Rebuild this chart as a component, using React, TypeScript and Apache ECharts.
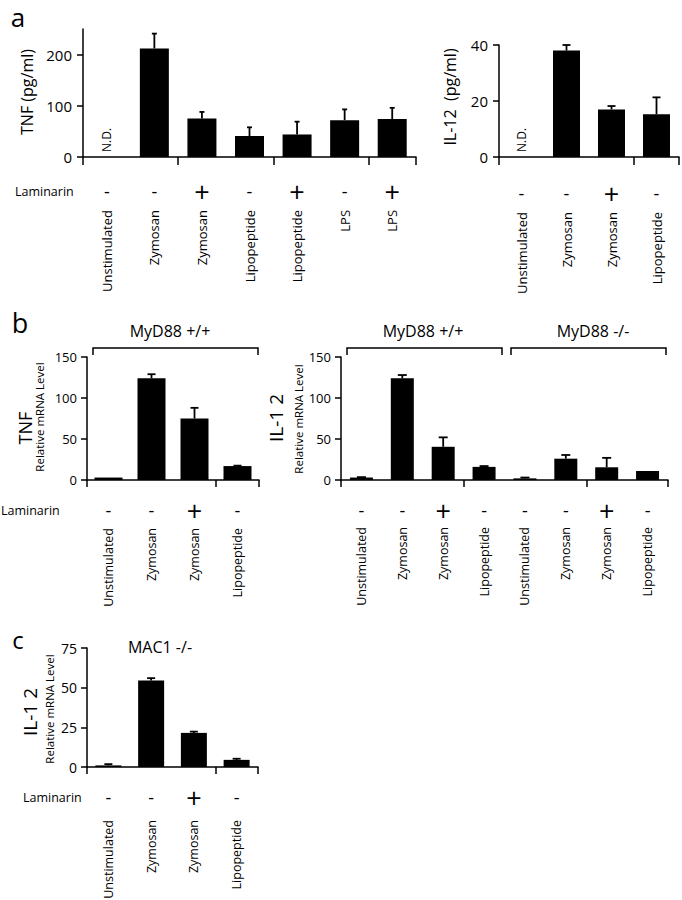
import React, { useEffect, useRef } from 'react';
import * as echarts from 'echarts';

const FONT = '"Open Sans", "Noto Sans", sans-serif';

// ---------- Panel a (left): TNF (pg/ml) ----------
const catsA1 = ['Unstimulated', 'Zymosan', 'Zymosan', 'Lipopeptide', 'Lipopeptide', 'LPS', 'LPS'];
const lamA1 = ['-', '-', '+', '-', '+', '-', '+'];
const tnfA = [null, 212, 75, 41, 44, 72, 74];
const tnfAErr = [null, 241, 88, 58, 69, 93, 96];
const ndA1 = [0];
const ticksA1 = [0, 100, 200];

// ---------- Panel a (right): IL-12 (pg/ml) ----------
const catsA2 = ['Unstimulated', 'Zymosan', 'Zymosan', 'Lipopeptide'];
const lamA2 = ['-', '-', '+', '-'];
const il12A = [null, 38, 17, 15.3];
const il12AErr = [null, 40, 18.2, 21.3];
const ndA2 = [0];
const ticksA2 = [0, 20, 40];

// ---------- Panel b (left): TNF relative mRNA ----------
const catsB1 = ['Unstimulated', 'Zymosan', 'Zymosan', 'Lipopeptide'];
const lamB1 = ['-', '-', '+', '-'];
const tnfB = [3, 124, 75, 17];
const tnfBErr = [3, 129, 88, 17.5];
const ticksB = [0, 50, 100, 150];

// ---------- Panel b (right): IL-12 relative mRNA, MyD88 +/+ and -/- ----------
const catsB2 = ['Unstimulated', 'Zymosan', 'Zymosan', 'Lipopeptide', 'Unstimulated', 'Zymosan', 'Zymosan', 'Lipopeptide'];
const lamB2 = ['-', '-', '+', '-', '-', '-', '+', '-'];
const il12B = [3, 124, 40.5, 16, 2, 26, 15.5, 11];
const il12BErr = [3.5, 128, 52, 17, 3, 30.5, 27, 11];

// ---------- Panel c: IL-12 relative mRNA, MAC1 -/- ----------
const catsC = ['Unstimulated', 'Zymosan', 'Zymosan', 'Lipopeptide'];
const lamC = ['-', '-', '+', '-'];
const il12C = [1, 54.5, 21.5, 4.5];
const il12CErr = [1.8, 56, 22.3, 5.2];
const ticksC = [0, 25, 50, 75];

type Panel = {
  left: number; top: number; width: number; height: number;
  cats: string[]; lam: string[]; vals: (number | null)[]; errs: (number | null)[];
  yMax: number; ticks: number[]; barWidth: number; cap: number;
  yLabelSize: number; yLabelMargin: number; xTick: number;
  signMargin: number; nameMargin: number; nameSize: number; nd: number[];
};

const panels: Panel[] = [
  { left: 83, top: 29, width: 333, height: 128, cats: catsA1, lam: lamA1, vals: tnfA, errs: tnfAErr,
    yMax: 250, ticks: ticksA1, barWidth: 29, cap: 5, yLabelSize: 15, yLabelMargin: 11, xTick: 8,
    signMargin: 34, nameMargin: 53, nameSize: 13, nd: ndA1 },
  { left: 499, top: 45, width: 180, height: 112, cats: catsA2, lam: lamA2, vals: il12A, errs: il12AErr,
    yMax: 40, ticks: ticksA2, barWidth: 27, cap: 8, yLabelSize: 15, yLabelMargin: 11, xTick: 8,
    signMargin: 36, nameMargin: 55, nameSize: 13, nd: ndA2 },
  { left: 87, top: 357, width: 172, height: 123, cats: catsB1, lam: lamB1, vals: tnfB, errs: tnfBErr,
    yMax: 150, ticks: ticksB, barWidth: 28, cap: 8, yLabelSize: 13, yLabelMargin: 10, xTick: 7,
    signMargin: 30, nameMargin: 48, nameSize: 12.5, nd: [] },
  { left: 341, top: 357, width: 327, height: 123, cats: catsB2, lam: lamB2, vals: il12B, errs: il12BErr,
    yMax: 150, ticks: ticksB, barWidth: 23, cap: 9, yLabelSize: 13, yLabelMargin: 10, xTick: 7,
    signMargin: 30, nameMargin: 47, nameSize: 12.5, nd: [] },
  { left: 87, top: 648, width: 171, height: 119, cats: catsC, lam: lamC, vals: il12C, errs: il12CErr,
    yMax: 75, ticks: ticksC, barWidth: 26, cap: 8, yLabelSize: 14, yLabelMargin: 10, xTick: 7,
    signMargin: 30, nameMargin: 53, nameSize: 12.5, nd: [] },
];

const black = '#000';
const R = Math.PI / 2;

let measureCtx: CanvasRenderingContext2D | null = null;
function textWidth(text: string, size: number): number {
  if (!measureCtx) measureCtx = document.createElement('canvas').getContext('2d');
  if (!measureCtx) return text.length * size * 0.52;
  measureCtx.font = `${size}px ${FONT}`;
  return measureCtx.measureText(text).width;
}

function buildOption() {
  const grid: any[] = [];
  const xAxis: any[] = [];
  const yAxis: any[] = [];
  const series: any[] = [];

  panels.forEach((p, gi) => {
    grid.push({ left: p.left, top: p.top, width: p.width, height: p.height, containLabel: false });
    const xi = xAxis.length;
    xAxis.push({
      type: 'category', gridIndex: gi, data: p.cats, position: 'bottom', boundaryGap: true,
      axisLine: { show: true, onZero: false, lineStyle: { color: black, width: 1.5 } },
      axisTick: { show: true, length: p.xTick, lineStyle: { color: black, width: 1.5 } },
      axisLabel: { show: false }, splitLine: { show: false },
    });
    xAxis.push({
      type: 'category', gridIndex: gi, data: p.lam, position: 'bottom', boundaryGap: true,
      axisLine: { show: false }, axisTick: { show: false }, splitLine: { show: false },
      axisLabel: {
        show: true, interval: 0, margin: p.signMargin, verticalAlign: 'middle',
        formatter: (v: string) => (v === '+' ? '{p|+}' : '{m|-}'),
        rich: {
          p: { fontSize: 27, fontFamily: FONT, color: black },
          m: { fontSize: 18, fontFamily: FONT, color: black },
        },
      },
    });
    yAxis.push({
      type: 'value', gridIndex: gi, min: 0, max: p.yMax,
      axisLine: { show: true, lineStyle: { color: black, width: 1.5 } },
      axisTick: { show: true, length: 6, lineStyle: { color: black, width: 1.5 }, customValues: p.ticks },
      axisLabel: { show: true, customValues: p.ticks, margin: p.yLabelMargin, fontSize: p.yLabelSize, fontFamily: FONT, color: black },
      splitLine: { show: false },
    });

    series.push({
      type: 'bar', xAxisIndex: xi, yAxisIndex: gi, data: p.vals, barWidth: p.barWidth,
      itemStyle: { color: black }, silent: true,
    });

    const errData = p.vals
      .map((v, i) => (v == null || p.errs[i] == null ? null : [i, v, p.errs[i]]))
      .filter((d) => d !== null);
    const cap = p.cap;
    series.push({
      type: 'custom', xAxisIndex: xi, yAxisIndex: gi, data: errData, silent: true,
      renderItem: (_params: any, api: any) => {
        const i = api.value(0);
        const v = api.value(1);
        const e = api.value(2);
        if (!(e > v)) return null;
        const b = api.coord([i, v]);
        const t = api.coord([i, e]);
        const c = cap / 2;
        return {
          type: 'group',
          children: [
            { type: 'line', shape: { x1: b[0], y1: b[1], x2: t[0], y2: t[1] }, style: { stroke: black, lineWidth: 1.8 } },
            { type: 'line', shape: { x1: t[0] - c, y1: t[1], x2: t[0] + c, y2: t[1] }, style: { stroke: black, lineWidth: 1.8 } },
          ],
        };
      },
    });

    // rotated category names, hung from the axis by their end (centred at margin + half width)
    const cats = p.cats;
    const nm = p.nameMargin;
    const ns = p.nameSize;
    const widths = cats.map((c) => textWidth(c, ns));
    series.push({
      type: 'custom', xAxisIndex: xi, yAxisIndex: gi, data: cats.map((_, i) => [i, 0]), silent: true, clip: false,
      renderItem: (params: any, api: any) => {
        const pt = api.coord([api.value(0), 0]);
        const w = widths[params.dataIndex];
        return {
          type: 'text', x: pt[0], y: pt[1] + nm + w / 2, rotation: R,
          style: {
            text: cats[params.dataIndex], fontSize: ns, fontFamily: FONT, fill: black,
            align: 'center', textAlign: 'center', verticalAlign: 'middle', textVerticalAlign: 'middle',
          },
        };
      },
    });

    if (p.nd.length) {
      const ndw = textWidth('N.D.', 12);
      series.push({
        type: 'custom', xAxisIndex: xi, yAxisIndex: gi, data: p.nd.map((i) => [i, 0]), silent: true,
        renderItem: (_params: any, api: any) => {
          const pt = api.coord([api.value(0), 0]);
          return {
            type: 'text', x: pt[0], y: pt[1] - 5 - ndw / 2, rotation: R,
            style: {
              text: 'N.D.', fontSize: 12, fontFamily: FONT, fill: black,
              align: 'center', textAlign: 'center', verticalAlign: 'middle', textVerticalAlign: 'middle',
            },
          };
        },
      });
    }
  });

  const txt = (text: string, x: number, y: number, size: number, rot = 0, align = 'center') => ({
    type: 'text', x, y, rotation: rot, silent: true,
    style: { text, fontSize: size, fontFamily: FONT, fill: black, align, textAlign: align, verticalAlign: 'middle', textVerticalAlign: 'middle' },
  });
  const bracket = (x1: number, x2: number, y: number, d: number) => ({
    type: 'polyline', silent: true,
    shape: { points: [[x1, y + d], [x1, y], [x2, y], [x2, y + d]] },
    style: { stroke: black, lineWidth: 1.5, fill: 'none' },
  });

  const graphic = [
    txt('a', 18, 17, 26),
    txt('b', 20, 322, 27),
    txt('c', 18, 639, 24),
    txt('TNF (pg/ml)', 27, 92, 16, R),
    txt('IL-12  (pg/ml)', 450, 97, 16, R),
    txt('Laminarin', 15, 191, 12.5, 0, 'left'),
    txt('MyD88 +/+', 170, 331, 16),
    bracket(93, 258, 348, 7),
    txt('TNF', 25, 428, 18, R),
    txt('Relative mRNA Level', 39, 417, 11.5, R),
    txt('MyD88 +/+', 423, 331, 16),
    txt('MyD88 -/-', 593, 331, 16),
    bracket(347, 502, 348, 7),
    bracket(511, 666, 348, 7),
    txt('IL-1 2', 276, 418, 19, R),
    txt('Relative mRNA Level', 298, 419, 11.5, R),
    txt('Laminarin', 1, 510, 12.5, 0, 'left'),
    txt('MAC1 -/-', 160, 647, 16),
    txt('IL-1 2', 30, 712, 19, R),
    txt('Relative mRNA Level', 49, 709, 11.5, R),
    txt('Laminarin', 23, 797, 12.5, 0, 'left'),
  ];

  return { animation: false, backgroundColor: '#fff', grid, xAxis, yAxis, series, graphic };
}

export default function App() {
  const ref = useRef<HTMLDivElement>(null);
  useEffect(() => {
    if (!ref.current) return;
    const chart = echarts.init(ref.current, null, { renderer: 'svg' });
    chart.setOption(buildOption() as any);
    return () => chart.dispose();
  }, []);
  return (
    <div
      ref={ref}
      style={{ position: 'absolute', left: 0, top: 0, width: 682, height: 900, background: '#fff' }}
    />
  );
}
